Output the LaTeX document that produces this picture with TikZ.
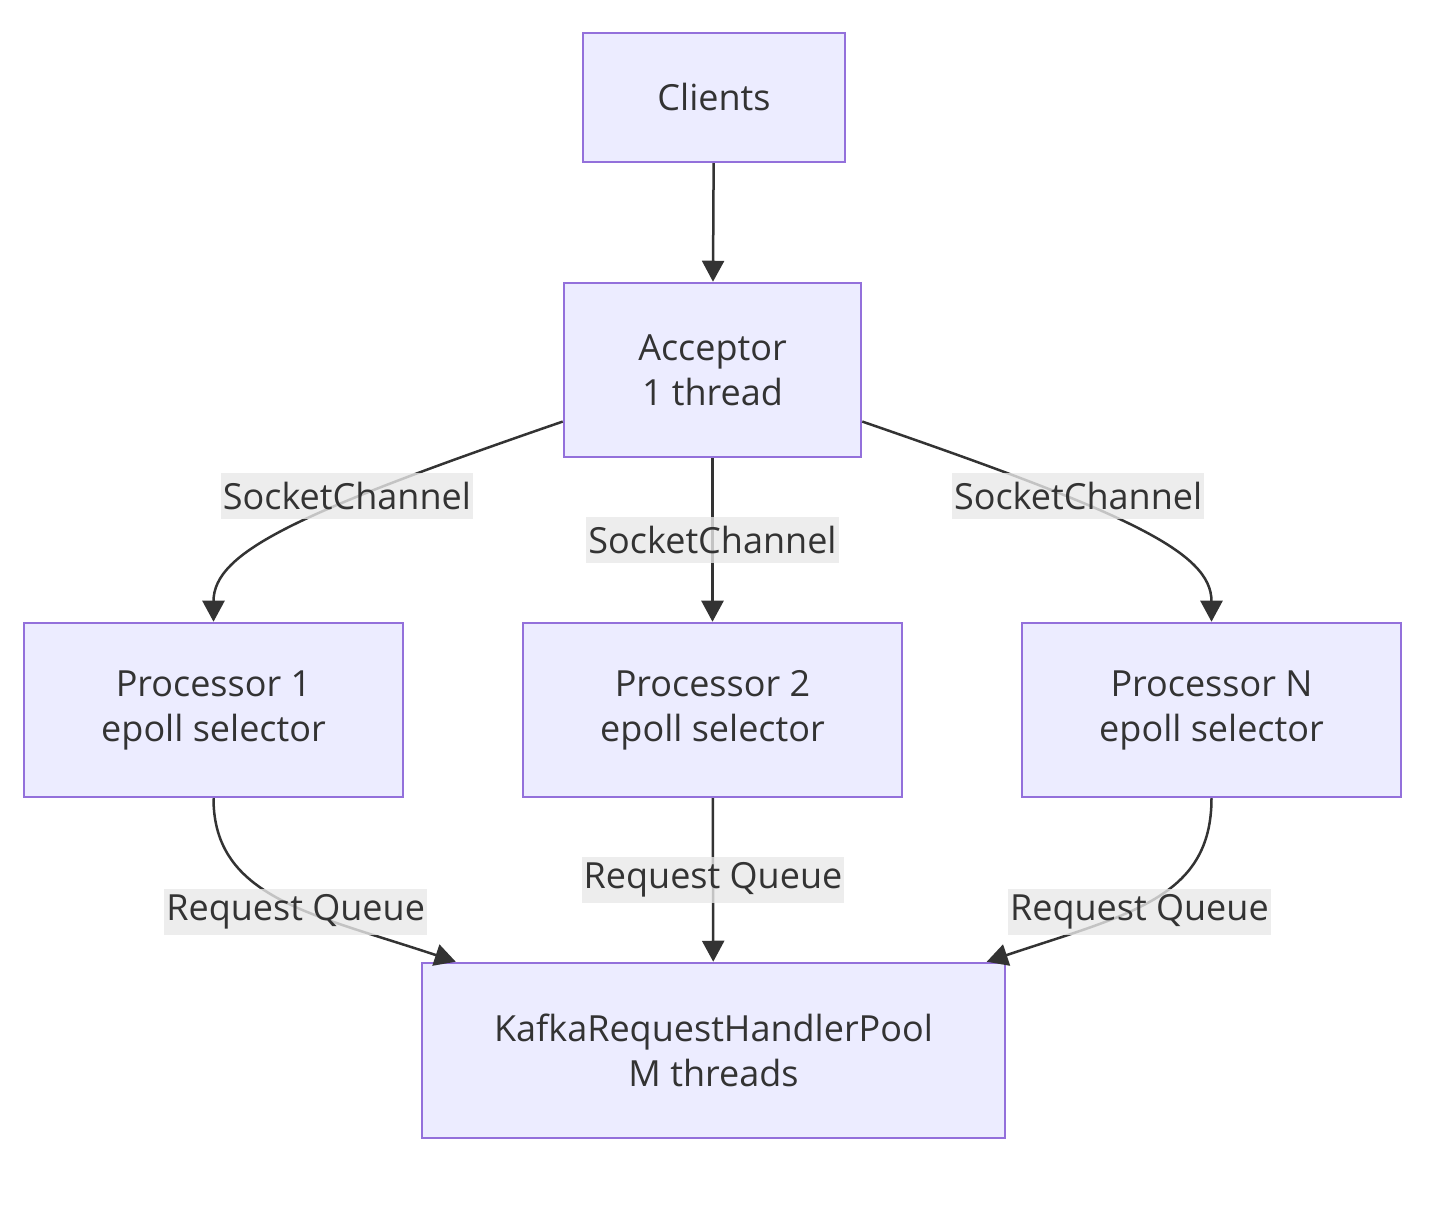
\documentclass[tikz,border=0pt]{standalone}
\usepackage{fontspec}
\setmainfont{Open Sans}
\usetikzlibrary{arrows.meta}
\definecolor{boxfill}{HTML}{ECECFF}
\definecolor{boxline}{HTML}{9370DB}
\definecolor{ink}{HTML}{333333}
\definecolor{lblfill}{HTML}{E8E8E8}
\tikzset{
  box/.style={draw=boxline, fill=boxfill, line width=2.5pt, text=ink, align=center,
    font=\fontsize{36}{45}\selectfont, inner sep=0pt},
  edge/.style={draw=ink, line width=2.5pt, -{Triangle[length=21pt,width=22pt]}},
  lbl/.style={fill=lblfill, fill opacity=0.8, text opacity=1, text=ink,
    font=\fontsize{36}{42}\selectfont, inner xsep=2pt, inner ysep=0pt,
    minimum height=46pt}
}

\begin{document}
\begin{tikzpicture}[x=1pt, y=1pt]
		%%%%% START %%%%%
		\useasboundingbox (0, 0) rectangle (1430, 1218);
		
		\node[box, minimum width=262, minimum height=129] (cli) at (714, 1120.5) {Clients};
		\node[box, minimum width=297, minimum height=174] (acc) at (712.5, 848) {Acceptor\\1 thread};
		
		\node[box, minimum width=379, minimum height=174] (p1) at (213.5, 508) {Processor 1\\epoll selector};
		\node[box, minimum width=379, minimum height=174] (p2) at (712.5, 508) {Processor 2\\epoll selector};
		\node[box, minimum width=379, minimum height=174] (pn) at (1211.5, 508) {Processor N\\epoll selector};
		
		\node[box, minimum width=583, minimum height=175] (pool) at (713.5, 167.5) {KafkaRequestHandlerPool\\M threads};
		
		\draw[edge] (cli) -- (acc);
		
		\draw[edge] (acc.199) .. controls +(199:280) and +(0, 70) .. node[lbl, pos=0.35, yshift=6] {SocketChannel} (p1.north);
		\draw[edge] (acc) -- node[lbl] {SocketChannel} (p2);
		\draw[edge] (acc.-19) .. controls +(-19:280) and +(0, 70) .. node[lbl, pos=0.35, yshift=6] {SocketChannel} (pn.north);
		
		\draw[edge] (p1.south) .. controls +(0, -100) and +(161.5:150) .. node[lbl, pos=0.55, xshift=1, yshift=-6] {Request Queue} (pool.161.5);
		\draw[edge] (p2) -- node[lbl] {Request Queue} (pool);
		\draw[edge] (pn.south) .. controls +(0, -100) and +(18.5:150) .. node[lbl, pos=0.55, xshift=-1, yshift=-6] {Request Queue} (pool.18.5);
		
		%%%%% END %%%%%
	\end{tikzpicture}
\end{document}
